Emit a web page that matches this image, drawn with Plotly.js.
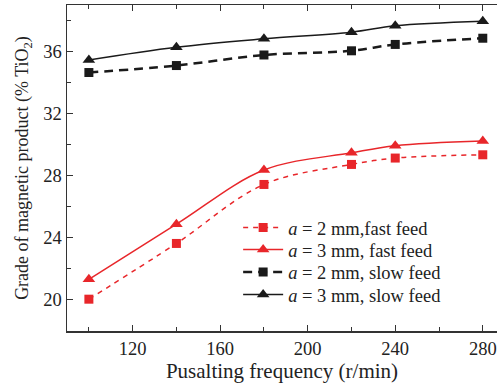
<!DOCTYPE html>
<html><head><meta charset="utf-8">
<script src="https://cdn.plot.ly/plotly-3.0.1.min.js"></script>
<style>html,body{margin:0;padding:0;background:#fff}</style>
</head><body><div id="chart" style="width:497px;height:385px"></div>
<script>
const freq = [100, 140, 180, 220, 240, 280];
const a2Fast = [20.05, 23.64, 27.44, 28.73, 29.14, 29.35];
const a3Fast = [21.33, 24.88, 28.37, 29.48, 29.94, 30.24];
const a2Slow = [34.65, 35.10, 35.78, 36.05, 36.46, 36.86];
const a3Slow = [35.46, 36.28, 36.82, 37.25, 37.66, 37.95];
const names = ['<i>a</i> = 2 mm,fast feed', '<i>a</i> = 3 mm, fast feed', '<i>a</i> = 2 mm, slow feed', '<i>a</i> = 3 mm, slow feed'];

const red = '#e8262a', black = '#1a1a1a';
const traces = [
  {x: freq, y: a2Fast, name: names[0], mode: 'lines+markers', legend: 'legend',
   line: {color: red, width: 1.5, dash: '5px,5px', shape: 'spline', smoothing: 1},
   marker: {symbol: 'square', size: 9, color: red}},
  {x: freq, y: a3Fast, name: names[1], mode: 'lines+markers', legend: 'legend2',
   line: {color: red, width: 1.5, shape: 'spline', smoothing: 1},
   marker: {symbol: 'triangle-up', size: 11, color: red}},
  {x: freq, y: a2Slow, name: names[2], mode: 'lines+markers', legend: 'legend3',
   line: {color: black, width: 2.5, dash: '9px,6px', shape: 'spline', smoothing: 1},
   marker: {symbol: 'square', size: 9, color: black}},
  {x: freq, y: a3Slow, name: names[3], mode: 'lines+markers', legend: 'legend4',
   line: {color: black, width: 1.5, shape: 'spline', smoothing: 1},
   marker: {symbol: 'triangle-up', size: 11, color: black}}
];
const font = 'Liberation Serif, Times New Roman, serif';
function leg(py) {
  return {x: 0.398, y: (331 - py) / 326, xanchor: 'left', yanchor: 'middle', bgcolor: 'rgba(0,0,0,0)',
          font: {family: font, size: 18.5, color: '#222'}, itemwidth: 40};
}
const layout = {
  width: 497, height: 385,
  margin: {l: 67, r: 0, t: 5, b: 54},
  paper_bgcolor: '#fff', plot_bgcolor: '#fff',
  font: {family: font, color: '#222', size: 16},
  showlegend: true,
  legend: leg(228), legend2: leg(250), legend3: leg(272.5), legend4: leg(295),
  xaxis: {range: [90, 286.5], tickvals: [120, 160, 200, 240, 280], ticks: 'inside', ticklen: 6,
          tickcolor: '#333', showline: true, linecolor: '#333', linewidth: 1.5, mirror: 'ticks',
          showgrid: false, zeroline: false,
          minor: {tickvals: [100, 140, 180, 220, 260], ticks: 'inside', ticklen: 4, tickcolor: '#333'},
          tickfont: {size: 18.5, family: font},
          title: {text: 'Pusalting frequency (r/min)', font: {size: 21, family: font}, standoff: 3}},
  yaxis: {range: [18, 39], tickvals: [20, 24, 28, 32, 36], ticks: 'inside', ticklen: 6,
          tickcolor: '#333', showline: true, linecolor: '#333', linewidth: 1.5, mirror: false,
          showgrid: false, zeroline: false,
          minor: {tickvals: [22, 26, 30, 34, 38], ticks: 'inside', ticklen: 4, tickcolor: '#333'},
          tickfont: {size: 18.5, family: font},
          title: {text: 'Grade of magnetic product (% TiO<sub>2</sub>)', font: {size: 18, family: font}, standoff: 10}}
};
Plotly.newPlot('chart', traces, layout, {displayModeBar: false, staticPlot: true});
</script></body></html>
